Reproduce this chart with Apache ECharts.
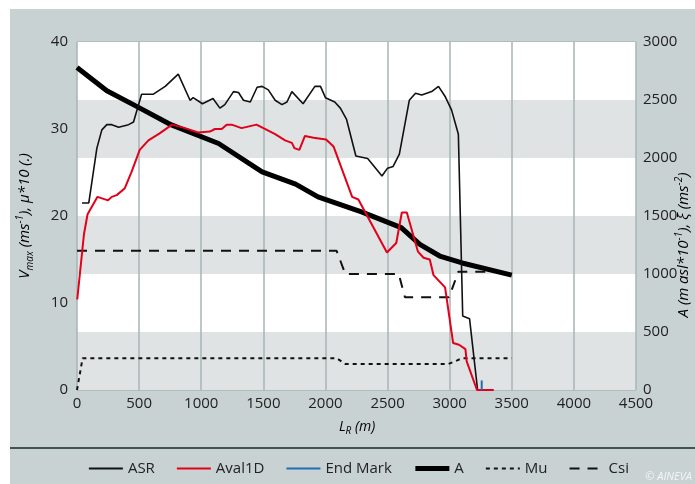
<!DOCTYPE html>
<html>
<head>
<meta charset="utf-8">
<script src="https://cdn.jsdelivr.net/npm/echarts@6/dist/echarts.min.js"></script>
<style>
html,body{margin:0;padding:0;background:#ffffff;}
#chart{width:695px;height:484px;}
</style>
</head>
<body>
<div id="chart"></div>
<script>
// ---- data (x = L_R in m) ----
var asr = [[40,21.5],[95,21.5],[160,27.8],[200,29.9],[240,30.5],[280,30.5],[335,30.2],[415,30.5],[455,30.8],[520,34.0],[615,34.0],[710,34.9],[815,36.3],[910,33.3],[935,33.6],[1010,32.9],[1095,33.5],[1150,32.4],[1190,32.8],[1260,34.3],[1300,34.2],[1340,33.3],[1395,33.1],[1450,34.8],[1490,34.9],[1540,34.5],[1595,33.3],[1650,32.8],[1690,33.1],[1730,34.3],[1820,32.9],[1915,34.9],[1960,34.9],[2000,33.6],[2075,33.1],[2120,32.4],[2170,31.1],[2245,26.9],[2340,26.6],[2455,24.6],[2500,25.5],[2545,25.7],[2595,27.1],[2675,33.3],[2725,34.1],[2775,33.9],[2855,34.3],[2910,34.9],[2965,33.7],[3015,32.2],[3070,29.4],[3105,8.5],[3160,8.2],[3225,0]];
var aval1D = [[2,10.4],[56,17.9],[85,20.2],[165,22.2],[250,21.8],[280,22.2],[320,22.4],[385,23.2],[440,25.1],[505,27.6],[575,28.7],[665,29.5],[765,30.5],[870,30.1],[975,29.6],[1070,29.7],[1110,30.0],[1165,30.0],[1205,30.5],[1245,30.5],[1325,30.1],[1445,30.5],[1595,29.4],[1675,28.7],[1730,28.4],[1750,27.8],[1790,27.6],[1835,29.2],[1905,29.0],[2005,28.8],[2065,28.0],[2215,22.2],[2265,21.9],[2495,15.8],[2570,16.9],[2615,20.4],[2655,20.4],[2745,15.9],[2790,15.2],[2840,15.0],[2870,13.2],[2963,11.8],[3028,5.4],[3075,5.2],[3127,4.7],[3137,3.3],[3220,0],[3355,0]];
var endMark = [[3258,0],[3258,1.1]];
var aLine = [[0,2780],[240,2580],[480,2445],[760,2285],[1140,2125],[1490,1880],[1760,1775],[1940,1665],[2290,1535],[2610,1400],[2760,1255],[2920,1155],[3100,1095],[3500,990]];
var mu = [[0,0],[45,3.65],[2090,3.65],[2160,3.0],[2990,3.0],[3060,3.4],[3100,3.65],[3500,3.65]];
var csi = [[0,1200],[2090,1200],[2160,1000],[2590,1000],[2640,800],[2995,800],[3070,1020],[3320,1020]];
var legendNames = ['ASR','Aval1D','End Mark','A','Mu','Csi'];

var FONT = '"Open Sans", "Noto Sans", sans-serif';
var NAMECOL = '#4a4a4a';
var NS = 15, NSS = 10;
function plain(v){ return String(v); }
var legendWidths = {'ASR':1.8,'Aval1D':2,'End Mark':2,'A':5,'Mu':2,'Csi':2};
var chart = echarts.init(document.getElementById('chart'), null, {renderer:'canvas'});
var option = {
  animation:false,
  backgroundColor:'#ffffff',
  textStyle:{fontFamily:FONT},
  graphic:[
    {type:'rect', z:-10, shape:{x:10,y:9,width:685,height:475}, style:{fill:'#c9d2d2'}},
    {type:'rect', z:-9, shape:{x:10,y:447,width:685,height:2}, style:{fill:'#3f5457'}},
    {type:'text', x:25, y:216, rotation:Math.PI/2, style:{
      text:'{i|V}{s|max}{i| (ms}{p|-1}{i|), µ*10 (.)}', align:'center', verticalAlign:'middle',
      rich:{i:{fontFamily:FONT,fontStyle:'italic',fontSize:NS,color:NAMECOL,lineHeight:20},
            s:{fontFamily:FONT,fontStyle:'italic',fontSize:NSS,color:NAMECOL,verticalAlign:'bottom',lineHeight:20},
            p:{fontFamily:FONT,fontStyle:'italic',fontSize:NSS,color:NAMECOL,verticalAlign:'top',lineHeight:20}}}},
    {type:'text', x:684, y:245, rotation:Math.PI/2, style:{
      text:'{i|A (m asl*10}{p|-1}{i|), ξ (ms}{p|-2}{i|)}', align:'center', verticalAlign:'middle',
      rich:{i:{fontFamily:FONT,fontStyle:'italic',fontSize:NS,color:NAMECOL,lineHeight:20},
            p:{fontFamily:FONT,fontStyle:'italic',fontSize:NSS,color:NAMECOL,verticalAlign:'top',lineHeight:20}}}},
    {type:'text', x:357, y:427, style:{
      text:'{i|L}{s|R}{i| (m)}', align:'center', verticalAlign:'middle',
      rich:{i:{fontFamily:FONT,fontStyle:'italic',fontSize:14,color:NAMECOL,lineHeight:18},
            s:{fontFamily:FONT,fontStyle:'italic',fontSize:10,color:NAMECOL,verticalAlign:'bottom',lineHeight:18}}}},
    {type:'text', x:692, y:477, style:{text:'© AINEVA', align:'right', verticalAlign:'middle',
      fontFamily:FONT, fontStyle:'italic', fontSize:11, fill:'#f4f6f6'}}
  ],
  legend:{
    data:legendNames.map(function(n){ return {name:n, lineStyle:{width:legendWidths[n]}}; }),
    left:83, top:456, itemWidth:34, itemHeight:12, itemGap:21,
    itemStyle:{opacity:0},
    textStyle:{fontFamily:FONT, fontSize:15, color:'#222'}
  },
  grid:{left:77, right:59, top:42, bottom:94, show:true, backgroundColor:'#ffffff', borderWidth:0},
  xAxis:{type:'value', min:0, max:4500, interval:500,
    axisLine:{show:false}, axisTick:{show:false},
    axisLabel:{fontFamily:FONT, fontSize:15, color:'#222', margin:6, formatter:plain},
    splitLine:{show:true, lineStyle:{color:'#a9b4b5', width:1.5}}},
  yAxis:[
    {type:'value', min:0, max:40, interval:10, position:'left',
     axisLine:{show:false}, axisTick:{show:false},
     axisLabel:{fontFamily:FONT, fontSize:15, color:'#222', margin:9, formatter:plain},
     splitLine:{show:true, lineStyle:{color:'#a9b4b5', width:1.5}}},
    {type:'value', min:0, max:3000, interval:500, position:'right',
     axisLine:{show:false}, axisTick:{show:false},
     axisLabel:{fontFamily:FONT, fontSize:15, color:'#222', margin:7, formatter:plain},
     splitLine:{show:false},
     splitArea:{show:true, areaStyle:{color:['#dfe3e3','#ffffff']}}}
  ],
  series:[
    {name:'ASR', type:'line', yAxisIndex:0, data:asr, symbol:'none', z:3,
     lineStyle:{color:'#111', width:1.6}, itemStyle:{color:'#111'}},
    {name:'Aval1D', type:'line', yAxisIndex:0, data:aval1D, symbol:'none', z:4,
     lineStyle:{color:'#e2001a', width:2}, itemStyle:{color:'#e2001a'}},
    {name:'End Mark', type:'line', yAxisIndex:0, data:endMark, symbol:'none', z:5,
     lineStyle:{color:'#1f6fb2', width:2}, itemStyle:{color:'#1f6fb2'}},
    {name:'A', type:'line', yAxisIndex:1, data:aLine, symbol:'none', z:2,
     lineStyle:{color:'#000', width:5}, itemStyle:{color:'#000'}},
    {name:'Mu', type:'line', yAxisIndex:0, data:mu, symbol:'none', z:2,
     lineStyle:{color:'#111', width:2, type:[4,4]}, itemStyle:{color:'#111'}},
    {name:'Csi', type:'line', yAxisIndex:1, data:csi, symbol:'none', z:2,
     lineStyle:{color:'#111', width:2, type:[10,8]}, itemStyle:{color:'#111'}}
  ]
};
chart.setOption(option);
</script>
</body>
</html>
